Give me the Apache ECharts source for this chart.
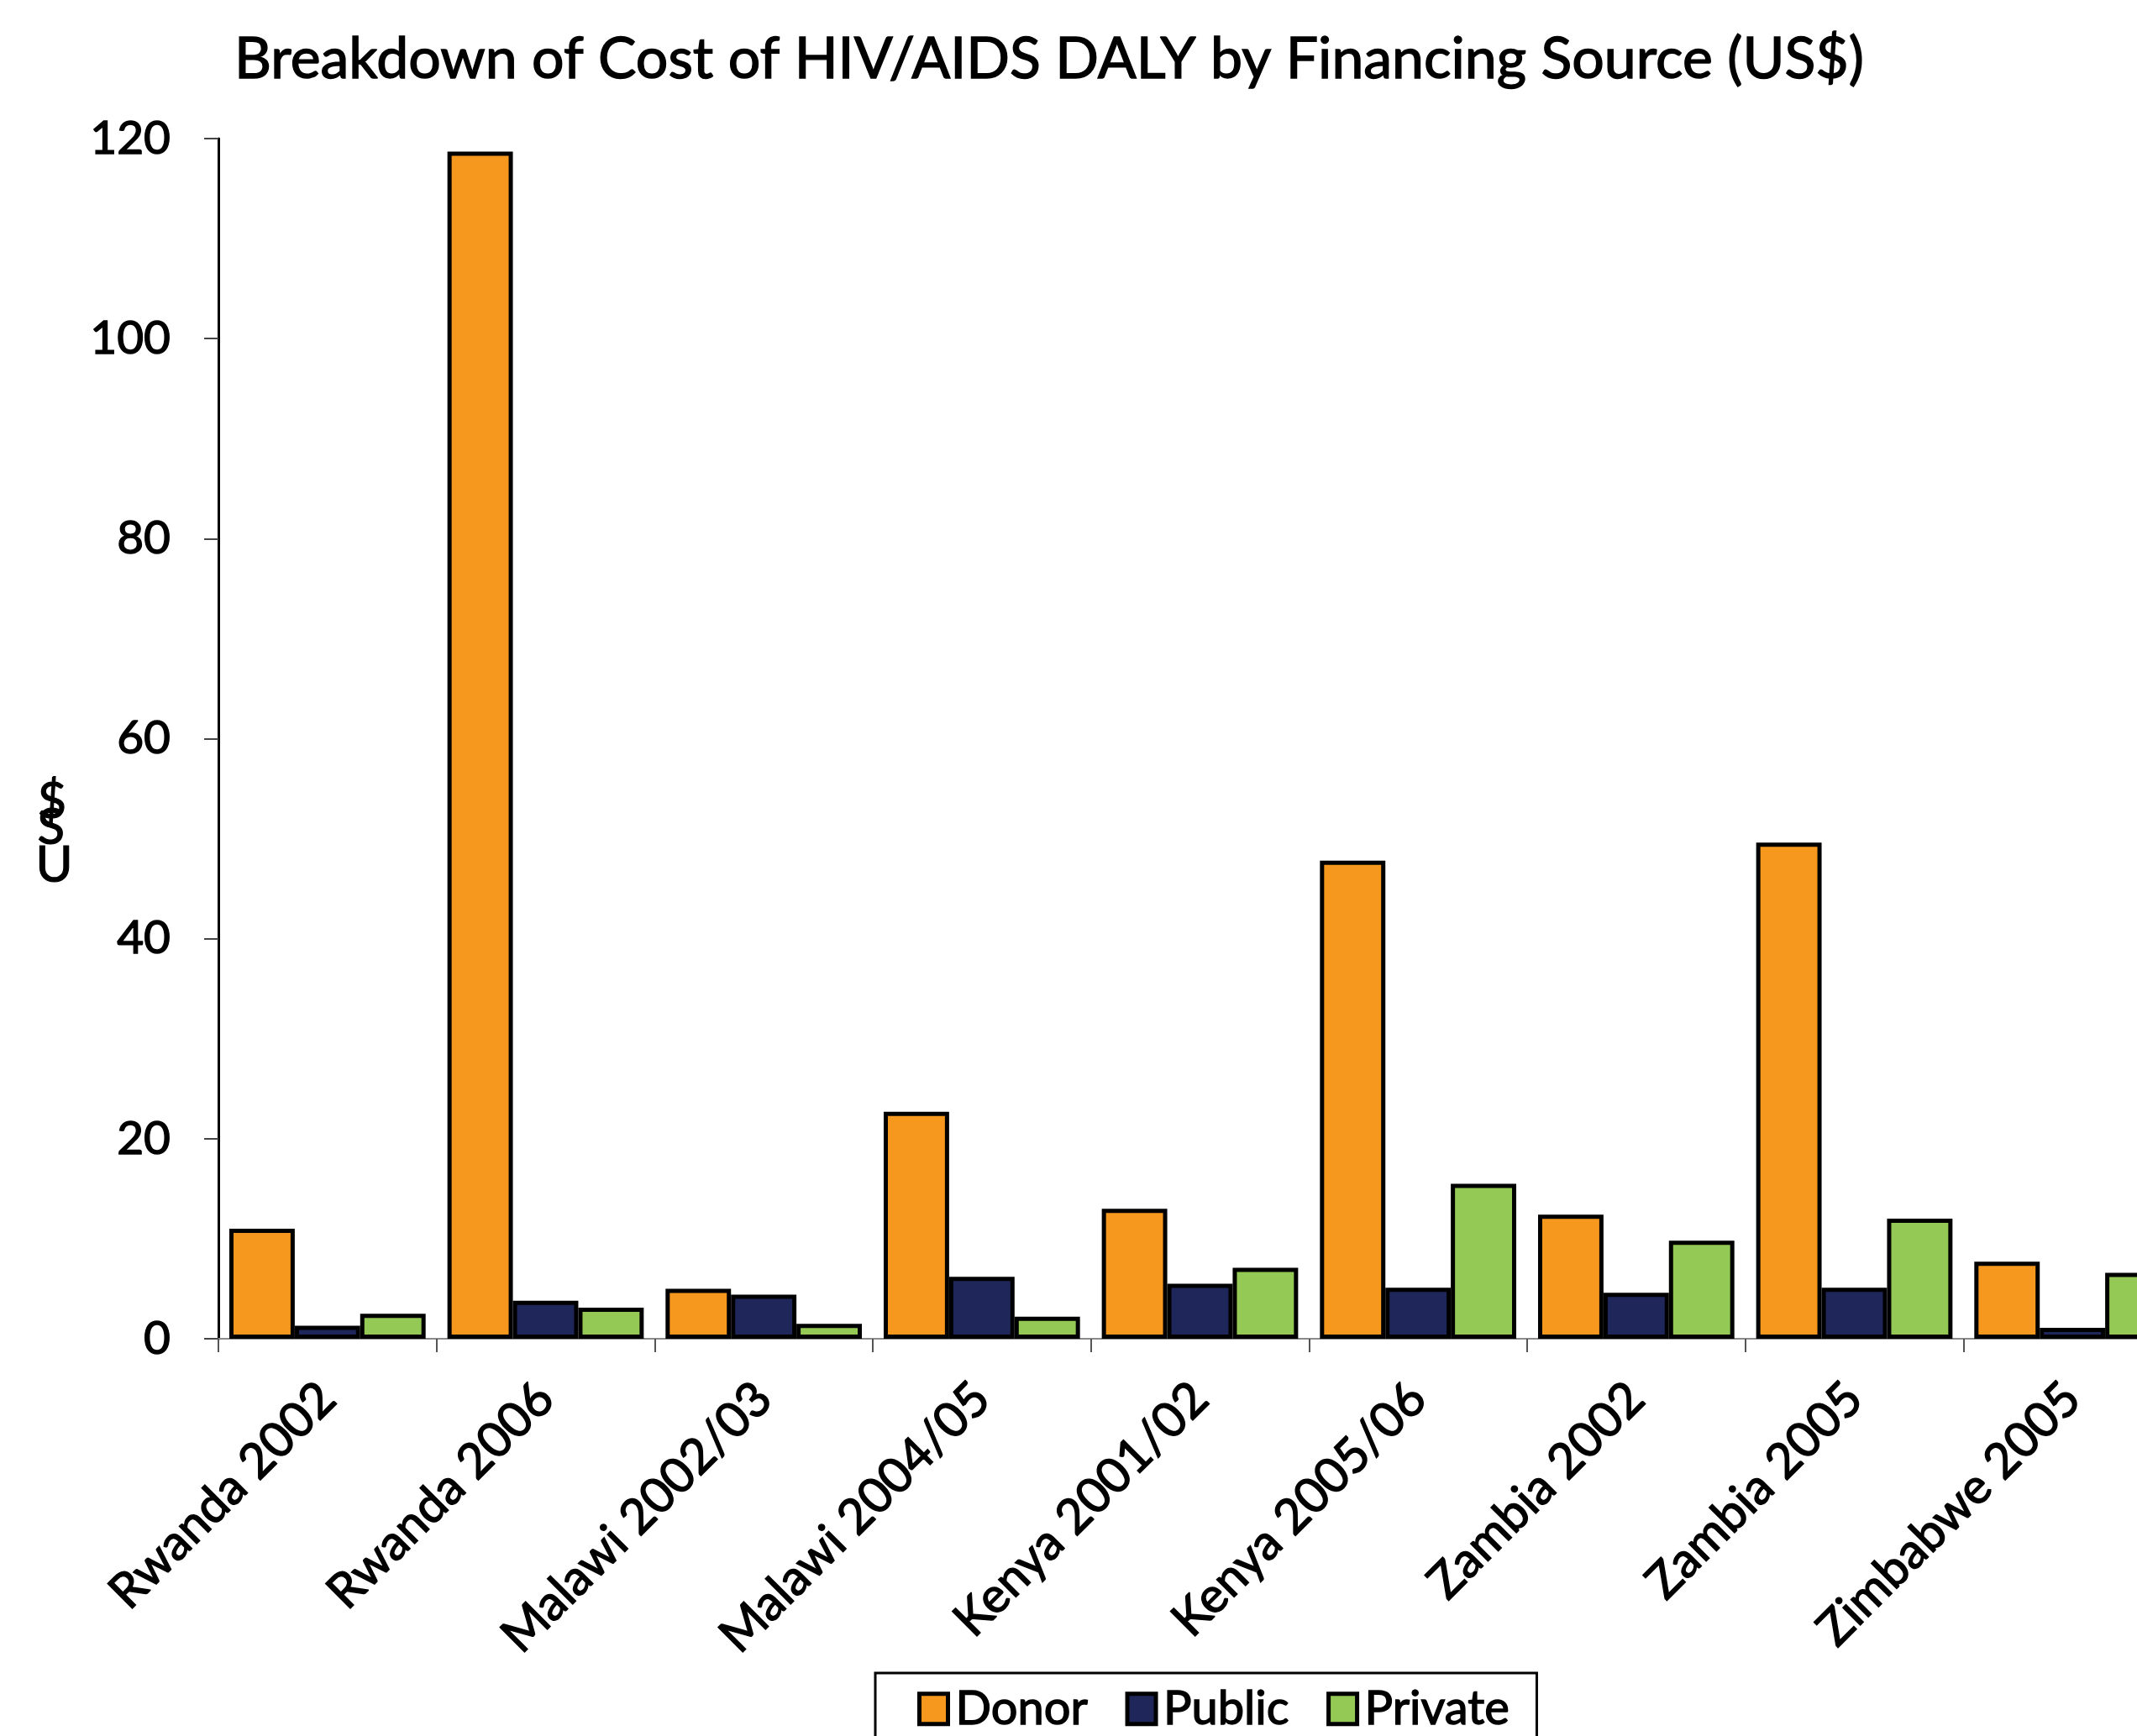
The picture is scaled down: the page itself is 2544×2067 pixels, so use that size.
<!DOCTYPE html>
<html>
<head>
<meta charset="utf-8">
<script src="https://cdn.jsdelivr.net/npm/echarts@6/dist/echarts.min.js"></script>
<style>
  html, body { margin: 0; padding: 0; background: #ffffff; }
  #chart { width: 2544px; height: 2067px; }
</style>
</head>
<body>
<div id="chart"></div>
<script>
// Cost of HIV/AIDS DALY, split by who pays (US$)
const categories = [
  'Rwanda 2002', 'Rwanda 2006', 'Malawi 2002/03', 'Malawi 2004/05',
  'Kenya 2001/02', 'Kenya 2005/06', 'Zambia 2002', 'Zambia 2005', 'Zimbabwe 2005'
];
const donor   = [11.0, 118.7, 5.0, 22.7, 13.0, 47.8, 12.4, 49.6, 7.7];
const publicF = [1.3, 3.8, 4.4, 6.2, 5.5, 5.1, 4.6, 5.1, 1.1];
const privateF = [2.5, 3.1, 1.5, 2.2, 7.1, 15.5, 9.8, 12.0, 6.6];
const seriesNames = ['Donor', 'Public', 'Private'];
const yTicks = [0, 20, 40, 60, 80, 100, 120];

const FONT = 'Lato, "Noto Sans", sans-serif';
const colors = ['#F7981E', '#1F275A', '#94C955'];
// a thin outline in the text colour gives the labels a medium weight
const medium = { color: '#000', textBorderColor: '#000', textBorderWidth: 1.4 };

const chart = echarts.init(document.getElementById('chart'), null, { renderer: 'canvas' });

function barSeries(name, data, color) {
  return {
    name: name,
    type: 'bar',
    data: data,
    barGap: '0%',
    barCategoryGap: '10%',
    itemStyle: { color: color, borderColor: '#000000', borderWidth: 5 }
  };
}

chart.setOption({
  backgroundColor: '#ffffff',
  animation: false,
  color: colors,
  title: {
    text: 'Breakdown of Cost of HIV/AIDS DALY by Financing Source (US$)',
    left: 1244,
    top: 32,
    textAlign: 'center',
    textStyle: Object.assign({ fontFamily: FONT, fontSize: 68, fontWeight: 'normal' }, medium)
  },
  legend: {
    data: seriesNames,
    left: 1042,
    top: 1992,
    orient: 'horizontal',
    padding: [14, 32, 40, 50],
    borderColor: '#000',
    borderWidth: 3,
    itemWidth: 34,
    itemHeight: 36,
    itemGap: 44,
    icon: 'rect',
    itemStyle: { borderColor: '#000', borderWidth: 5 },
    textStyle: Object.assign({ fontFamily: FONT, fontSize: 56, padding: [0, 0, 0, 4] }, medium)
  },
  grid: { left: 260, top: 165, width: 2337, height: 1429, containLabel: false, outerBoundsMode: 'none' },
  xAxis: {
    type: 'category',
    data: categories,
    axisLine: { show: true, lineStyle: { color: '#8a8a8a', width: 2 } },
    axisTick: { show: true, length: 16, lineStyle: { color: '#555', width: 2 } },
    axisLabel: Object.assign({
      interval: 0,
      rotate: 45,
      margin: 62,
      fontFamily: FONT,
      fontSize: 58
    }, medium),
    splitLine: { show: false }
  },
  yAxis: {
    type: 'value',
    min: yTicks[0],
    max: yTicks[yTicks.length - 1],
    interval: 20,
    axisLine: { show: true, lineStyle: { color: '#000', width: 3 } },
    axisTick: { show: true, length: 17, lineStyle: { color: '#444', width: 2 } },
    axisLabel: Object.assign({
      margin: 57,
      fontFamily: FONT,
      fontSize: 55
    }, medium),
    splitLine: { show: false }
  },
  graphic: [
    { type: 'text', left: 44, top: 924, style: { text: '$', font: '60px ' + FONT, fill: '#000', stroke: '#000', lineWidth: 1.2 } },
    { type: 'text', left: 44, top: 955, style: { text: 'S', font: '60px ' + FONT, fill: '#000', stroke: '#000', lineWidth: 1.2 } },
    { type: 'text', left: 42, top: 1000, style: { text: 'U', font: '60px ' + FONT, fill: '#000', stroke: '#000', lineWidth: 1.2 } }
  ],
  series: [
    barSeries(seriesNames[0], donor, colors[0]),
    barSeries(seriesNames[1], publicF, colors[1]),
    barSeries(seriesNames[2], privateF, colors[2])
  ]
});
</script>
</body>
</html>
